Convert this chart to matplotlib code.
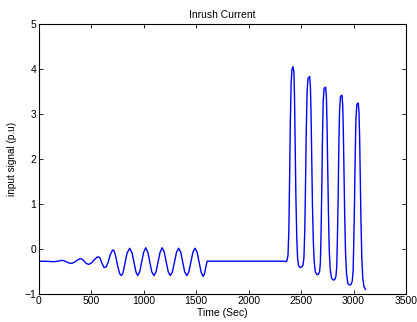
import matplotlib
matplotlib.use("Agg")
import matplotlib.pyplot as plt

plt.rcParams['font.family'] = ['Liberation Sans', 'DejaVu Sans']

# early small wobble, before the oscillation
t_start = [0, 50, 100, 140, 180, 215, 240, 275, 310, 340, 370, 395, 420, 450,
           475, 500, 530, 560, 580, 600, 620]
v_start = [-0.28, -0.28, -0.285, -0.29, -0.28, -0.26, -0.27, -0.31, -0.33, -0.30,
           -0.25, -0.22, -0.25, -0.33, -0.35, -0.32, -0.24, -0.18, -0.20, -0.32, -0.42]

# steady oscillation
t_osc = [640, 660, 680, 700, 712, 730, 750, 770, 785, 800, 820, 840, 865, 888,
         907, 925, 942, 960, 979, 998, 1018, 1038, 1057, 1076, 1097, 1116, 1135,
         1155, 1175, 1195, 1214, 1233, 1253, 1272, 1292, 1312, 1332, 1352, 1371,
         1390, 1410, 1429, 1448, 1468, 1488, 1508, 1527, 1546, 1566, 1580, 1592, 1604]
v_osc = [-0.41, -0.30, -0.13, -0.04, -0.03, -0.15, -0.38, -0.56, -0.60, -0.55,
         -0.33, -0.10, 0.01, -0.10, -0.32, -0.52, -0.60, -0.52, -0.30, -0.08,
         0.02, -0.08, -0.30, -0.52, -0.60, -0.52, -0.30, -0.08, 0.02, -0.08,
         -0.30, -0.52, -0.60, -0.52, -0.30, -0.08, 0.01, -0.08, -0.30, -0.52,
         -0.60, -0.52, -0.30, -0.08, 0.01, -0.08, -0.30, -0.52, -0.62, -0.55,
         -0.40, -0.28]

# flat part
t_flat = [1604, 2340, 2355, 2365]
v_flat = [-0.28, -0.28, -0.29, -0.27]

# inrush pulses
t_inrush = [2375, 2383, 2390, 2397, 2405, 2413, 2423, 2431, 2437, 2443, 2450, 2458,
            2466, 2476, 2490, 2505, 2518, 2527,
            2535, 2542, 2549, 2557, 2566, 2582, 2589, 2595, 2601, 2608, 2616, 2625,
            2636, 2652, 2666, 2677, 2684,
            2690, 2697, 2704, 2711, 2720, 2734, 2741, 2747, 2753, 2760, 2768, 2777,
            2790, 2806, 2820, 2832, 2840,
            2846, 2853, 2860, 2867, 2876, 2890, 2897, 2903, 2909, 2916, 2924, 2933,
            2946, 2962, 2976, 2988, 2996,
            3002, 3009, 3016, 3023, 3032, 3045, 3052, 3058, 3064, 3071, 3079, 3088,
            3100, 3115]
v_inrush = [-0.15, 0.4, 1.5, 2.8, 3.7, 4.0, 4.06, 3.95, 3.4, 2.4, 1.2, 0.3,
            -0.2, -0.38, -0.42, -0.41, -0.37, -0.2,
            0.4, 1.4, 2.6, 3.5, 3.8, 3.84, 3.6, 3.0, 2.1, 1.0, 0.2, -0.3,
            -0.52, -0.58, -0.57, -0.50, -0.3,
            0.3, 1.3, 2.5, 3.3, 3.58, 3.60, 3.4, 2.8, 1.9, 0.9, 0.0, -0.45,
            -0.66, -0.70, -0.69, -0.62, -0.4,
            0.2, 1.1, 2.3, 3.1, 3.40, 3.42, 3.2, 2.6, 1.7, 0.7, -0.1, -0.55,
            -0.78, -0.81, -0.80, -0.72, -0.5,
            0.1, 1.0, 2.1, 2.9, 3.22, 3.25, 3.05, 2.5, 1.6, 0.6, -0.2, -0.65,
            -0.85, -0.91]

t = t_start + t_osc + t_flat + t_inrush
v = v_start + v_osc + v_flat + v_inrush

fig = plt.figure(figsize=(4.17, 3.22), dpi=100)
ax = fig.add_axes([0.0935, 0.0885, 0.88, 0.8355])
ax.plot(t, v, color='#0000ff', linewidth=1.0)

ax.set_xlim(0, 3500)
ax.set_ylim(-1, 5)
ax.set_xticks(range(0, 3501, 500))
ax.set_yticks(range(-1, 6))
ax.tick_params(direction='in', length=3, width=0.6, labelsize=7.5,
               top=True, right=True, pad=2)
for s in ax.spines.values():
    s.set_linewidth(0.8)

ax.set_title("Inrush Current", fontsize=7.5, pad=5)
ax.set_xlabel("Time (Sec)", fontsize=7.5, labelpad=1)
ax.set_ylabel("input signal (p.u)", fontsize=7.2, labelpad=5)

fig.savefig("out.png", dpi=100)
